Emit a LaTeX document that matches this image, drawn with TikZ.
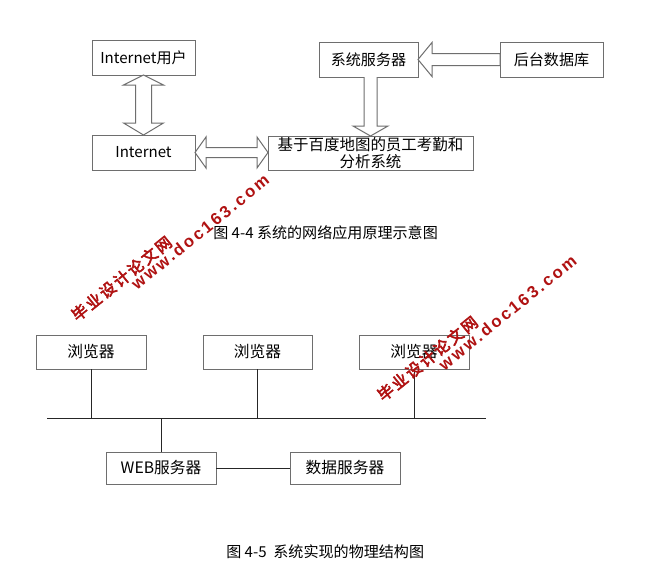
\documentclass[tikz,border=0pt]{standalone}
\usepackage{fontspec}
\usetikzlibrary{calc}
\newfontfamily\cjk{Noto Sans CJK SC}
\newfontfamily\wmcjk[FakeBold=3.5,LetterSpace=14]{Noto Sans CJK SC}
\newfontfamily\wmlat[LetterSpace=15]{Liberation Sans}
\definecolor{boxgray}{RGB}{110,110,110}
\definecolor{wmred}{RGB}{176,18,18}
\tikzset{
  box/.style={draw=boxgray, line width=0.75pt, fill=white, inner sep=0pt, outer sep=0pt,
    font=\cjk\fontsize{11.3}{13}\selectfont, align=center},
  lbox/.style={box, font=\cjk\fontsize{11.8}{13}\selectfont},
  fat/.style={draw=boxgray, line width=0.75pt, fill=white, line join=miter},
  wire/.style={draw=black!85, line width=0.75pt},
  captext/.style={font=\cjk\fontsize{11.3}{13}\selectfont, inner sep=0pt},
  wmA/.style={text=wmred, rotate=39, inner sep=0pt, font=\wmcjk\fontsize{11.8}{12}\selectfont},
  wmB/.style={text=wmred, rotate=39, inner sep=0pt, font=\wmlat\bfseries\fontsize{12.5}{13}\selectfont},
}
\begin{document}
\begin{tikzpicture}[x=0.75pt, y=-0.75pt]
\useasboundingbox[fill=white] (0,0) rectangle (652,578);

% ---- figure 4-4 ----
\node[box, minimum width=77.25pt, minimum height=26.25pt] (user) at (143.5,57.5) {Internet用户};
\node[box, minimum width=77.25pt, minimum height=26.25pt] (inet) at (143.5,152.5) {Internet};
\node[box, minimum width=74.25pt, minimum height=26.25pt] (srv) at (368.5,59.5) {系统服务器};
\node[box, minimum width=77.25pt, minimum height=26.25pt] (db) at (551.5,59.5) {后台数据库};
\node[box, minimum width=153.75pt, minimum height=25.5pt, font=\cjk\fontsize{11.6}{12.8}\selectfont] (sys) at (370.5,153) {基于百度地图的员工考勤和\\分析系统};

% vertical double arrow
\draw[fat] (user.south) -- ++(20,10) -- ++(-12,0) -- ($(inet.north)+(8,-12)$) -- ++(12,0)
  -- (inet.north) -- ++(-20,-12) -- ++(12,0) -- ($(user.south)+(-8,10)$) -- ++(-12,0) -- cycle;
% horizontal double arrow
\draw[fat] (inet.east) -- ++(11,-15.5) -- ++(0,10.5) -- ($(inet.east -| sys.west)+(-11,-5)$) -- ++(0,-10.5)
  -- (inet.east -| sys.west) -- ++(-11,15.5) -- ++(0,-10.5) -- ($(inet.east)+(11,5)$) -- ++(0,10.5) -- cycle;
% db -> srv
\draw[fat] (srv.east) -- ++(14,-17) -- ++(0,11) -- ($(db.west)+(0,-6)$) -- ++(0,12)
  -- ($(srv.east)+(14,6)$) -- ++(0,11) -- cycle;
% srv -> sys
\draw[fat] ($(srv.south -| sys.north)+(-6.5,0)$) -- ($(sys.north)+(-6.5,-10)$) -- ++(-11,0) -- (sys.north)
  -- ++(17.5,-10) -- ++(-11,0) -- ($(srv.south -| sys.north)+(6.5,0)$);

\node[captext, anchor=west] (cap1) at (213,233) {图 4-4 系统的网络应用原理示意图};

% ---- figure 4-5 ----
\node[lbox, minimum width=82.5pt, minimum height=25.5pt] (b1) at (91,352) {浏览器};
\node[lbox, minimum width=81.75pt, minimum height=25.5pt] (b2) at (257.5,352) {浏览器};
\node[lbox, minimum width=82.5pt, minimum height=25.5pt] (b3) at (414,352) {浏览器};
\node[lbox, minimum width=82.5pt, minimum height=24pt] (web) at (161,468) {WEB服务器};
\node[lbox, minimum width=82.5pt, minimum height=24pt] (data) at (345,468) {数据服务器};
\coordinate (busL) at (47,418);
\coordinate (busR) at (486,418);
\draw[wire] (busL) -- (busR);
\draw[wire] (b1.south) -- (b1.south |- busL);
\draw[wire] (b2.south) -- (b2.south |- busL);
\draw[wire] (b3.south) -- (b3.south |- busL);
\draw[wire] (web.north) -- (web.north |- busL);
\draw[wire] (web.east) -- (data.west);

\node[captext, anchor=west] (cap2) at (226,552) {图 4-5\hspace{0.45em}系统实现的物理结构图};

% ---- watermarks ----
\node[wmA] (wm1a) at (121.5,278.5) {毕业设计论文网};
\node[wmB] (wm1b) at (200,232) {www.doc163.com};
\node[wmA] (wm2a) at (427.5,358.5) {毕业设计论文网};
\node[wmB] (wm2b) at (507.5,312.5) {www.doc163.com};
\end{tikzpicture}
\end{document}
